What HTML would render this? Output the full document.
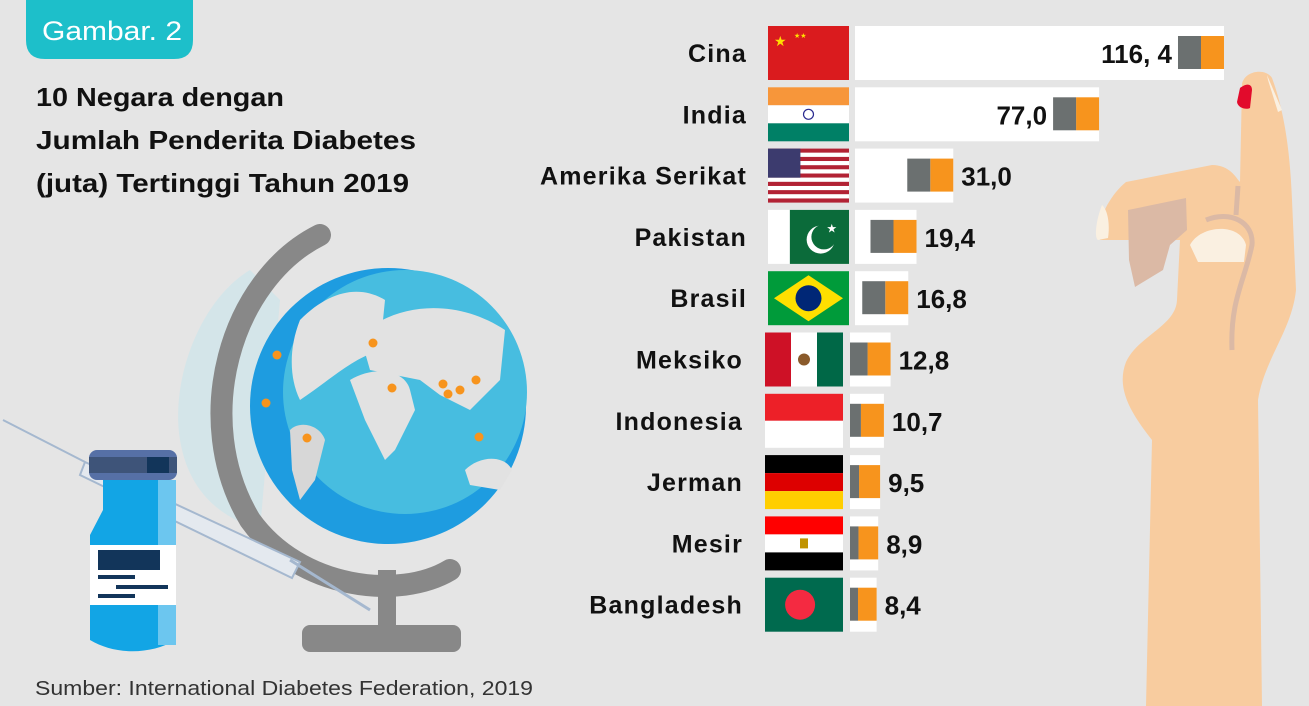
<!DOCTYPE html>
<html><head><meta charset="utf-8"><style>
html,body{margin:0;padding:0;background:#e5e5e5;}
svg{display:block;font-family:"Liberation Sans",sans-serif;}
</style></head><body>
<svg id="s" width="1309" height="706" viewBox="0 0 1309 706">
<rect width="1309" height="706" fill="#e5e5e5"/>
<g>
<path d="M26,0 H193 V40 Q193,59 174,59 H45 Q26,59 26,40 Z" fill="#1dbfca"/>
<text x="42" y="40" font-size="27" fill="#fff" textLength="140" lengthAdjust="spacingAndGlyphs">Gambar. 2</text>
</g>
<g font-size="26" font-weight="bold" fill="#111">
<text x="36" y="106" textLength="248" lengthAdjust="spacingAndGlyphs">10 Negara dengan</text>
<text x="36" y="149" textLength="380" lengthAdjust="spacingAndGlyphs">Jumlah Penderita Diabetes</text>
<text x="36" y="192" textLength="373" lengthAdjust="spacingAndGlyphs">(juta) Tertinggi Tahun 2019</text>
</g>
<g>
<path d="M1146,706 L1152,440 C1130,412 1116,388 1126,362 C1138,336 1176,326 1177,300 L1180,240 L1100,240 C1095,222 1110,195 1126,182 L1212,165 C1230,165 1236,178 1240,182 L1242,84 C1245,70 1266,68 1272,78 C1284,110 1290,150 1292,200 L1296,290 C1292,330 1264,360 1258,400 L1262,706 Z" fill="#f8cc9f"/>
<path d="M1128,210 L1186,198 L1187,230 L1170,245 L1163,270 L1135,287 L1129,260 Z" fill="#dbb9a5"/>
<path d="M1190,245 C1200,225 1240,222 1246,245 L1244,262 L1198,262 Z" fill="#faf0e1"/>
<path d="M1238,186 L1236,215 M1206,220 C1230,210 1254,222 1252,245 C1245,280 1230,300 1232,350" stroke="#dbb9a5" stroke-width="5" fill="none"/>
<path d="M1102,205 C1096,220 1094,238 1098,240 L1108,238 C1110,225 1108,210 1102,205 Z" fill="#faf0e1"/>
<path d="M1240,88 C1248,82 1252,85 1252,90 L1250,108 C1246,110 1238,108 1237,102 Z" fill="#e20b2c"/>
<path d="M1267,75 L1282,110 L1278,112 L1268,80 Z" fill="#faf0e1"/>
</g>
<g>
<path d="M250,270 C200,300 170,380 180,440 C190,500 230,520 260,530 L280,300 Z" fill="#cfe5ea" opacity="0.8"/>
<path d="M320,235 C230,280 190,420 250,520 C300,590 400,600 450,570" stroke="#888" stroke-width="22" fill="none" stroke-linecap="round"/>
<circle cx="388" cy="406" r="138" fill="#1e9ce0"/>
<circle cx="405" cy="392" r="122" fill="#47bde0"/>
<path d="M300,320 C330,290 360,285 385,300 L380,350 C350,360 330,380 300,400 C290,380 288,350 300,320 Z" fill="#e2e2e2"/>
<path d="M290,430 C300,420 320,425 325,440 L315,480 L300,500 L292,470 Z" fill="#d7d7d7"/>
<path d="M350,380 C375,365 405,370 410,390 L415,410 L395,450 L385,460 L365,420 Z" fill="#e2e2e2"/>
<path d="M360,335 C400,300 460,300 505,330 L500,380 L470,410 L440,395 L420,380 L370,370 Z" fill="#e2e2e2"/>
<path d="M465,470 C480,455 505,455 512,470 L500,490 L470,485 Z" fill="#e2e2e2"/>
<rect x="378" y="570" width="18" height="58" fill="#888"/>
<rect x="302" y="625" width="159" height="27" rx="8" fill="#888"/>
</g>
<g fill="#f7941d">
<circle cx="277" cy="355" r="4.5"/><circle cx="373" cy="343" r="4.5"/><circle cx="392" cy="388" r="4.5"/>
<circle cx="443" cy="384" r="4.5"/><circle cx="448" cy="394" r="4.5"/><circle cx="460" cy="390" r="4.5"/>
<circle cx="476" cy="380" r="4.5"/><circle cx="266" cy="403" r="4.5"/><circle cx="307" cy="438" r="4.5"/><circle cx="479" cy="437" r="4.5"/>
</g>
<g>
<line x1="3" y1="420" x2="85" y2="462" stroke="#a5b8cf" stroke-width="2"/>
<path d="M85,462 L300,562 L292,578 L80,475 Z" fill="#e4e9ef" stroke="#a5b8cf" stroke-width="2"/>
<line x1="290" y1="560" x2="370" y2="610" stroke="#a5b8cf" stroke-width="3"/>
</g>
<g>
<path d="M103,480 L160,480 L160,510 L176,535 L176,640 C150,655 115,655 90,640 L90,535 L103,510 Z" fill="#12a5e5"/>
<rect x="158" y="480" width="18" height="165" fill="#6cc6ef"/>
<rect x="90" y="545" width="86" height="60" fill="#fff"/>
<rect x="98" y="550" width="62" height="20" fill="#12355a"/>
<rect x="98" y="575" width="37" height="4" fill="#12355a"/><rect x="116" y="585" width="52" height="4" fill="#12355a"/><rect x="98" y="594" width="37" height="4" fill="#12355a"/>
<rect x="89" y="450" width="88" height="30" rx="8" fill="#5670a6"/>
<rect x="89" y="457" width="88" height="16" fill="#3e5479"/>
<rect x="147" y="457" width="22" height="16" fill="#12355a"/>
</g>
<g id="chart"></g>
<text x="35" y="695" font-size="20" fill="#333" textLength="498" lengthAdjust="spacingAndGlyphs">Sumber: International Diabetes Federation, 2019</text>
</svg>
<script>
const countries = ["Cina","India","Amerika Serikat","Pakistan","Brasil","Meksiko","Indonesia","Jerman","Mesir","Bangladesh"];
const values = [116.4,77.0,31.0,19.4,16.8,12.8,10.7,9.5,8.9,8.4];
const valueLabels = ["116, 4","77,0","31,0","19,4","16,8","12,8","10,7","9,5","8,9","8,4"];
const NS="http://www.w3.org/2000/svg";
const g=document.getElementById('chart');
function xScale(v){return v*3.17;}
function yRow(i){return 26+i*61.3;}
function mk(t,a,p){const e=document.createElementNS(NS,t);for(const k in a)e.setAttribute(k,a[k]);(p||g).appendChild(e);return e;}
function flag(i,x,y,w,h,fg){
  const c=countries[i];
  const r=(yy,hh,col)=>mk('rect',{x:x,y:y+yy,width:w,height:hh,fill:col},fg);
  if(c==="Cina"){r(0,h,'#da1b1e');mk('text',{x:x+6,y:y+20,'font-size':14,fill:'#ffde00'},fg).textContent='★';
    mk('text',{x:x+26,y:y+12,'font-size':7,fill:'#ffde00'},fg).textContent='★★';}
  else if(c==="India"){r(0,h/3,'#f7963a');r(h/3,h/3,'#fff');r(2*h/3,h/3,'#008066');mk('circle',{cx:x+w/2,cy:y+h/2,r:5,fill:'none',stroke:'#2a2a8f','stroke-width':1.2},fg);}
  else if(c==="Amerika Serikat"){for(let k=0;k<13;k++)r(k*h/13,h/13,k%2?'#fff':'#b22234');mk('rect',{x:x,y:y,width:w*0.4,height:h*7/13,fill:'#3c3b6e'},fg);}
  else if(c==="Pakistan"){r(0,h,'#fff');mk('rect',{x:x+w*0.27,y:y,width:w*0.73,height:h,fill:'#0b6b3a'},fg);
    mk('circle',{cx:x+w*0.65,cy:y+h*0.55,r:14,fill:'#fff'},fg);mk('circle',{cx:x+w*0.69,cy:y+h*0.5,r:12.5,fill:'#0b6b3a'},fg);
    mk('text',{x:x+w*0.72,y:y+h*0.42,'font-size':12,fill:'#fff'},fg).textContent='★';}
  else if(c==="Brasil"){r(0,h,'#009b3a');mk('polygon',{points:`${x+6},${y+h/2} ${x+w/2},${y+4} ${x+w-6},${y+h/2} ${x+w/2},${y+h-4}`,fill:'#fedf00'},fg);mk('circle',{cx:x+w/2,cy:y+h/2,r:13,fill:'#002776'},fg);}
  else if(c==="Meksiko"){r(0,h,'#fff');mk('rect',{x:x,y:y,width:w/3,height:h,fill:'#ce1126'},fg);mk('rect',{x:x+2*w/3,y:y,width:w/3,height:h,fill:'#006847'},fg);mk('circle',{cx:x+w/2,cy:y+h/2,r:6,fill:'#8a5a2b'},fg);}
  else if(c==="Indonesia"){r(0,h/2,'#ed2028');r(h/2,h/2,'#fff');}
  else if(c==="Jerman"){r(0,h/3,'#000');r(h/3,h/3,'#dd0000');r(2*h/3,h/3,'#ffce00');}
  else if(c==="Mesir"){r(0,h/3,'#ff0000');r(h/3,h/3,'#fff');r(2*h/3,h/3,'#000');mk('rect',{x:x+w/2-4,y:y+h/2-5,width:8,height:10,fill:'#c09300'},fg);}
  else if(c==="Bangladesh"){r(0,h,'#006a4e');mk('circle',{cx:x+w*0.45,cy:y+h/2,r:15,fill:'#f42a41'},fg);}
}
countries.forEach((c,i)=>{
  const y=yRow(i), h=54, top=i<5;
  const fx=top?768:765, fw=top?81:78;
  const row=mk('g',{});
  
  
  const lab=mk('text',{x:top?747:743,y:y+h/2+9,'font-size':25,'font-weight':'bold','letter-spacing':1.2,'text-anchor':'end',fill:'#111'},row);
  
  
  lab.textContent=c;
  const fg=mk('g',{},row);
  
  
  flag(i,fx,y,fw,h,fg);
  const bx=top?855:850, bw=xScale(values[i]);
  const bar=mk('rect',{x:bx,y:y,width:bw,height:h,fill:'#fff'},row);
  
  
  const ow=Math.min(23,bw*0.7), gw=Math.min(23,bw-ow);
  const end=bx+bw;
  mk('rect',{x:end-ow,y:y+10,width:ow,height:33,fill:'#f7941d'},row);
  mk('rect',{x:end-ow-gw,y:y+10,width:gw,height:33,fill:'#6b7070'},row);
  const inside=values[i]>50;
  const vl=mk('text',{x:inside?end-ow-gw-6:end+8,y:y+h/2+10,'font-size':26,'font-weight':'bold','text-anchor':inside?'end':'start',fill:'#111'},row);
  
  
  vl.textContent=valueLabels[i];
});
</script>
</body></html>
